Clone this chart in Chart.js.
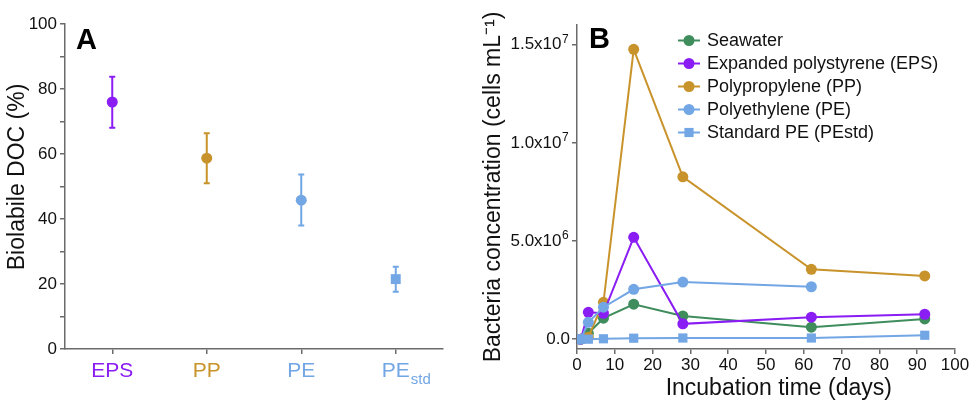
<!DOCTYPE html>
<html>
<head>
<meta charset="utf-8">
<script src="https://cdn.jsdelivr.net/npm/chart.js@4.4.0/dist/chart.umd.min.js"></script>
<style>
    html, body { margin: 0; padding: 0; background: #fff; }
    #wrap { position: relative; width: 971px; height: 402px; }
    #chartA { position: absolute; left: 0; top: 0; }
    #chartB { position: absolute; left: 480px; top: 0; }
</style>
</head>
<body>
<div id="wrap">
    <canvas id="chartA" width="480" height="402"></canvas>
    <canvas id="chartB" width="491" height="402"></canvas>
</div>
<script>
// panel A - biolabile DOC
const docCategories = ['EPS', 'PP', 'PE', 'PE'];
const docSubscripts = ['', '', '', 'std'];
const docValues = [76, 58.7, 45.8, 21.5];
const docErrLow = [68.1, 51, 38, 17.6];
const docErrHigh = [83.8, 66.4, 53.7, 25.3];

// panel B - bacteria concentration
const days = [1, 3, 7, 15, 28, 62, 92];
const seawater = [0, 3.0e5, 1.07e6, 1.78e6, 1.18e6, 6.1e5, 1.03e6];
const eps = [0, 1.37e6, 1.32e6, 5.19e6, 7.8e5, 1.12e6, 1.27e6];
const pp = [0, 1.0e5, 1.88e6, 1.476e7, 8.27e6, 3.56e6, 3.22e6];
const pe = [0, 8.6e5, 1.63e6, 2.54e6, 2.91e6, 2.67e6, null];
const peStd = [0, 0, 2e4, 5e4, 6e4, 6e4, 2.0e5];
const seriesNames = ['Seawater', 'Expanded polystyrene (EPS)', 'Polypropylene (PP)', 'Polyethylene (PE)', 'Standard PE (PEstd)'];
const yTicksB = [0, 5e6, 1e7, 1.5e7];
const yTickMantissa = ['0.0', '5.0x10', '1.0x10', '1.5x10'];
const yTickExponent = ['', '6', '7', '7'];

const PURPLE = '#8a1cf4';
const GOLD = '#c8932b';
const LBLUE = '#72a6e4';
const GREEN = '#3f8d5d';
const AXIS = '#6b6b6b';
const FONT = '"Liberation Sans", Arial, sans-serif';
const EXP_GAP = '\u2002';

const docColors = [PURPLE, GOLD, LBLUE, LBLUE];

Chart.defaults.font.family = FONT;
Chart.defaults.color = '#111';
Chart.defaults.animation = false;

// 误差线
const errorBars = {
    id: 'errorBars',
    beforeDatasetsDraw(chart) {
        const ctx = chart.ctx;
        const x = chart.scales.x, y = chart.scales.y;
        ctx.save();
        ctx.lineWidth = 2;
        docValues.forEach((v, i) => {
            const px = x.getPixelForValue(i);
            const top = y.getPixelForValue(docErrHigh[i]);
            const bot = y.getPixelForValue(docErrLow[i]);
            ctx.strokeStyle = docColors[i];
            ctx.beginPath();
            ctx.moveTo(px, top); ctx.lineTo(px, bot);
            ctx.moveTo(px - 3, top); ctx.lineTo(px + 3, top);
            ctx.moveTo(px - 3, bot); ctx.lineTo(px + 3, bot);
            ctx.stroke();
        });
        ctx.restore();
    }
};

// 下标 + 面板字母
const extrasA = {
    id: 'extrasA',
    afterDraw(chart) {
        const ctx = chart.ctx;
        const x = chart.scales.x;
        ctx.save();
        docSubscripts.forEach((s, i) => {
            if (!s) return;
            ctx.font = '21px ' + FONT;
            const w = ctx.measureText(docCategories[i]).width;
            ctx.font = '15px ' + FONT;
            ctx.fillStyle = docColors[i];
            ctx.textBaseline = 'alphabetic';
            ctx.fillText(s, x.getPixelForValue(i) + w / 2 + 1, 384);
        });
        ctx.font = 'bold 29px ' + FONT;
        ctx.fillStyle = '#000';
        ctx.textBaseline = 'alphabetic';
        ctx.fillText('A', 76, 49);
        ctx.restore();
    }
};

new Chart(document.getElementById('chartA'), {
    type: 'line',
    data: {
        labels: docCategories,
        datasets: [{
            data: docValues,
            showLine: false,
            pointStyle: ['circle', 'circle', 'circle', 'rect'],
            pointRadius: [5.5, 5.5, 5.5, 7],
            pointBackgroundColor: docColors,
            pointBorderWidth: 0
        }]
    },
    options: {
        responsive: false,
        layout: { padding: { top: 24, right: 37, left: 0, bottom: 0 } },
        plugins: { legend: { display: false }, tooltip: { enabled: false } },
        scales: {
            x: {
                type: 'category',
                offset: true,
                grid: { offset: false, drawOnChartArea: false, tickLength: 5, color: AXIS, lineWidth: 1.5 },
                border: { color: AXIS, width: 1.5 },
                ticks: {
                    padding: 5,
                    font: { size: 21 },
                    color: docColors,
                    maxRotation: 0
                },
                afterFit(s) { s.height = 53; }
            },
            y: {
                min: 0,
                max: 100,
                grid: { drawOnChartArea: false, tickLength: 5, color: AXIS, lineWidth: 1.5 },
                border: { color: AXIS, width: 1.5 },
                ticks: {
                    stepSize: 10,
                    padding: 3,
                    font: { size: 17 },
                    callback: v => (v % 20 === 0 ? v : '')
                },
                // leading spaces nudge the rotated title up like the original
                title: { display: true, text: '   Biolabile DOC (%)', font: { size: 23 }, padding: { top: 4, bottom: 2 } },
                afterFit(s) { s.width = 65; }
            }
        }
    },
    plugins: [errorBars, extrasA]
});

// 图例 + 指数 + 面板字母
const extrasB = {
    id: 'extrasB',
    afterDraw(chart) {
        const ctx = chart.ctx;
        const y = chart.scales.y;
        ctx.save();
        chart.data.datasets.forEach((ds, i) => {
            const yy = 40.5 + i * 23;
            const x0 = 198;
            ctx.strokeStyle = ds.borderColor;
            ctx.lineWidth = 2;
            ctx.beginPath();
            ctx.moveTo(x0, yy); ctx.lineTo(x0 + 22, yy);
            ctx.stroke();
            ctx.fillStyle = ds.borderColor;
            Chart.helpers.drawPoint(ctx, { pointStyle: ds.pointStyle, radius: ds.pointRadius, borderWidth: 0, rotation: 0 }, x0 + 11, yy);
            ctx.fillStyle = '#111';
            ctx.font = '18px ' + FONT;
            ctx.textBaseline = 'middle';
            ctx.fillText(ds.label, 227, yy + 1);
        });
        // superscript exponents right after the mantissa
        ctx.fillStyle = '#111';
        ctx.textAlign = 'left';
        ctx.textBaseline = 'alphabetic';
        const labelRight = y.right - 5 - 2;
        yTicksB.forEach((v, i) => {
            if (!yTickExponent[i]) return;
            ctx.font = '17px ' + FONT;
            const wAll = ctx.measureText(yTickMantissa[i] + EXP_GAP).width;
            const wMan = ctx.measureText(yTickMantissa[i]).width;
            ctx.font = '12px ' + FONT;
            ctx.fillText(yTickExponent[i], labelRight - wAll + wMan + 0.5, y.getPixelForValue(v) - 2);
        });
        ctx.font = 'bold 29px ' + FONT;
        ctx.fillStyle = '#000';
        ctx.fillText('B', 109, 48);
        ctx.restore();
    }
};

function toPoints(arr) {
    return days.map((d, i) => ({ x: d, y: arr[i] })).filter(p => p.y !== null);
}

const seriesValues = [seawater, eps, pp, pe, peStd];
const seriesColors = [GREEN, PURPLE, GOLD, LBLUE, LBLUE];
const seriesOrder = [5, 3, 4, 2, 1];

new Chart(document.getElementById('chartB'), {
    type: 'line',
    data: {
        datasets: seriesValues.map((vals, i) => ({
            label: seriesNames[i],
            data: toPoints(vals),
            borderColor: seriesColors[i],
            backgroundColor: seriesColors[i],
            pointBackgroundColor: seriesColors[i],
            borderWidth: 2,
            pointRadius: i === 4 ? 6.5 : 5.5,
            pointBorderWidth: 0,
            pointStyle: i === 4 ? 'rect' : 'circle',
            tension: 0,
            order: seriesOrder[i]
        }))
    },
    options: {
        responsive: false,
        layout: { padding: { top: 25, right: 16, left: 0, bottom: 0 } },
        plugins: { legend: { display: false }, tooltip: { enabled: false } },
        scales: {
            x: {
                type: 'linear',
                min: 0,
                max: 100,
                grid: { drawOnChartArea: false, tickLength: 5, color: AXIS, lineWidth: 1.5 },
                border: { color: AXIS, width: 1.5 },
                ticks: { stepSize: 10, padding: 1, font: { size: 17 }, maxRotation: 0 },
                // leading spaces nudge the title right like the original
                title: { display: true, text: '    Incubation time (days)', font: { size: 23 }, padding: { top: 0, bottom: 0 } },
                afterFit(s) { s.height = 53; }
            },
            y: {
                type: 'linear',
                min: -5e5,
                max: 1.6e7,
                grid: { drawOnChartArea: false, tickLength: 5, color: AXIS, lineWidth: 1.5 },
                border: { color: AXIS, width: 1.5 },
                afterBuildTicks(s) { s.ticks = yTicksB.map(v => ({ value: v })); },
                ticks: {
                    padding: 2,
                    font: { size: 17 },
                    callback: (v) => {
                        const k = yTicksB.indexOf(v);
                        if (k < 0) return '';
                        return yTickExponent[k] ? yTickMantissa[k] + EXP_GAP : yTickMantissa[k];
                    }
                },
                title: { display: true, text: 'Bacteria concentration (cells mL⁻¹)', font: { size: 23 }, padding: { top: 0, bottom: 2 } },
                afterFit(s) { s.width = 97; }
            }
        }
    },
    plugins: [extrasB]
});
</script>
</body>
</html>
